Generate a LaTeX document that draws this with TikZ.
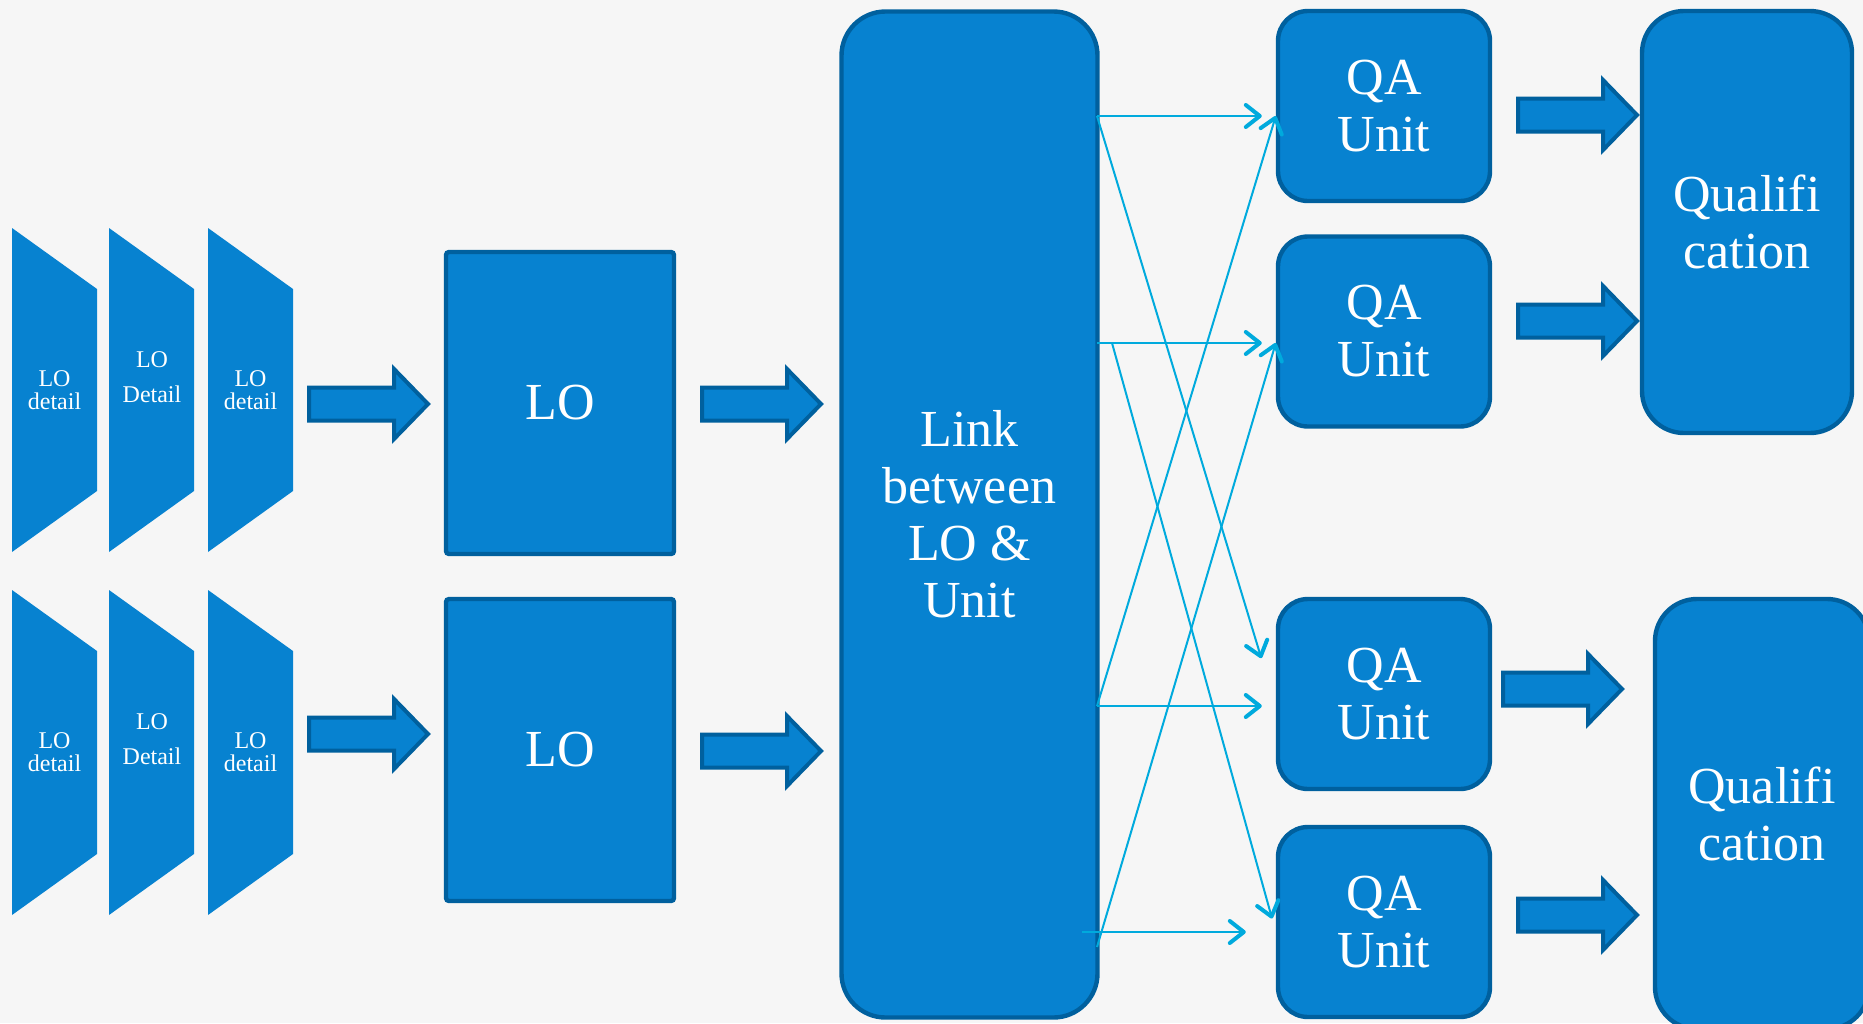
\documentclass[tikz,border=0pt]{standalone}
\usepackage{xcolor}
\usepackage{fontspec}
\setmainfont{Liberation Serif}
\usetikzlibrary{arrows.meta, positioning}
\definecolor{cblue}{HTML}{0782D0}
\definecolor{cdark}{HTML}{00609E}
\definecolor{ccyan}{HTML}{00AADD}
\definecolor{cbg}{HTML}{F6F6F6}
\tikzset{
  big text/.style={text=white, align=center, font=\fontsize{26}{28.5}\selectfont},
  small text/.style={text=white, align=center, inner sep=0pt, font=\fontsize{12}{11.5}\selectfont},
  wide lines/.style={font=\fontsize{12}{17.5}\selectfont},
  blue box/.style={big text, draw=cdark, fill=cblue, line width=2.2pt},
  lo box/.style={blue box, rounded corners=1.5pt, minimum width=114pt, minimum height=151pt},
  link box/.style={blue box, rounded corners=22pt, minimum width=128pt, minimum height=503pt},
  qa box/.style={blue box, rounded corners=15pt, minimum width=106pt, minimum height=95pt},
  qual box/.style={blue box, rounded corners=21pt, minimum width=105pt, minimum height=211pt},
  link arrow/.style={ccyan, line width=1pt, -{Straight Barb[length=7pt, width=11pt, line width=2pt, round]}},
  fat arrow/.pic={
    \draw[cdark, fill=cblue, line width=2pt] (0,-16.5) -- (85,-16.5) -- (85,-35) -- (119,0)
      -- (85,35) -- (85,16.5) -- (0,16.5) -- cycle;
  }
}

\begin{document}
\begin{tikzpicture}[x=0.5pt, y=-0.5pt]
    \useasboundingbox (0,0) rectangle (1863,1023);
    \clip (0,0) rectangle (1863,1023);
    \fill[cbg] (0,0) rectangle (1863,1023);
    % LO detail columns
    \foreach \x in {12,109,208} {
        \fill[cblue] (\x,228) -- (\x+85,289) -- (\x+85,491) -- (\x,552) -- cycle;
        \fill[cblue] (\x,590) -- (\x+85,651) -- (\x+85,854) -- (\x,915) -- cycle;
    }
    \begin{scope}[every node/.style={small text}]
        \node (d1) at (54.5,390) {LO\\detail};
        \node (d2) [wide lines] at (152,377) {LO\\Detail};
        \node (d3) at (250.5,390) {LO\\detail};
        \node (d4) at (54.5,752) {LO\\detail};
        \node (d5) [wide lines] at (152,739) {LO\\Detail};
        \node (d6) at (250.5,752) {LO\\detail};
    \end{scope}
    \node (lo1) [lo box] at (560,403) {LO};
    \node (lo2) [lo box] at (560,750) {LO};
    \node (link) [link box] at (969.5,514.5) {Link\\between\\LO \&\\Unit};
    \node (qa1) [qa box] at (1384,106) {QA\\Unit};
    \node (qa2) [qa box] at (1384,331.5) {QA\\Unit};
    \node (qa3) [qa box] at (1384,694) {QA\\Unit};
    \node (qa4) [qa box] at (1384,922) {QA\\Unit};
    \node (qual1) [qual box] at (1747,222) {Qualifi\\cation};
    \node (qual2) [qual box, minimum width=107pt, minimum height=215pt] at (1762,814) {Qualifi\\cation};
    % block arrows
    \foreach \x/\y in {309/404, 309/734, 702/404, 702/751, 1518/115, 1518/321, 1503/689, 1518/915}
        \pic at (\x,\y) {fat arrow};
    % links to QA units
    \coordinate (s1) at (1097,116);
    \coordinate (s2) at (1097,343);
    \coordinate (s2b) at (1112,343);
    \coordinate (s3) at (1097,706);
    \coordinate (s4) at (1082,932);
    \coordinate (s4b) at (1097,947);
    \draw[link arrow, shorten >=7pt] (s1) -- (s1 -| qa1.west);
    \draw[link arrow, shorten >=25pt] (s1) -- (s3 -| qa3.west);
    \draw[link arrow, shorten >=7pt] (s2) -- (s2 -| qa2.west);
    \draw[link arrow, shorten >=7pt] (s2b) -- (s4 -| qa4.west);
    \draw[link arrow, shorten >=7pt] (s3) -- (s3 -| qa3.west);
    \draw[link arrow] (s3) -- (s1 -| qa1.west);
    \draw[link arrow, shorten >=15pt] (s4) -- (s4 -| qa4.west);
    \draw[link arrow] (s4b) -- (s2 -| qa2.west);
\end{tikzpicture}
\end{document}
